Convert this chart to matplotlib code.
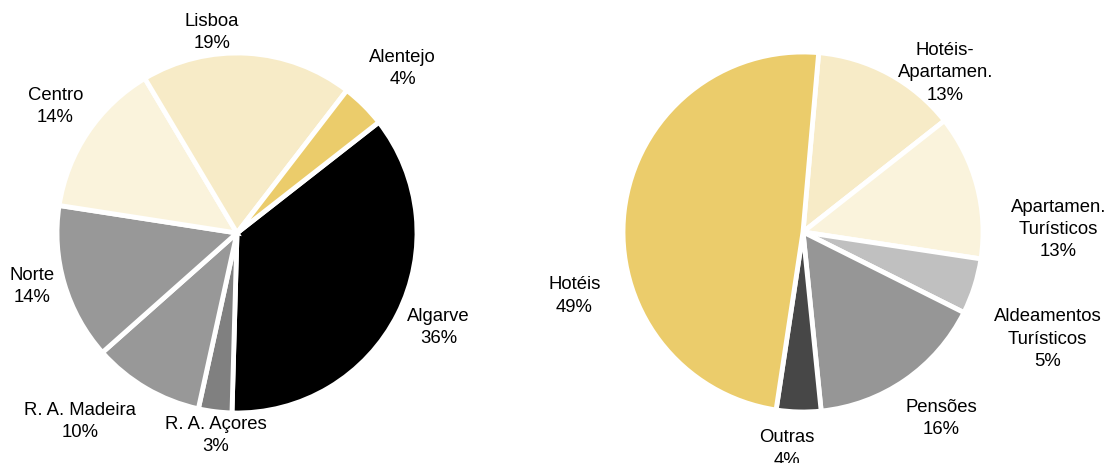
import matplotlib.pyplot as plt

plt.rcParams['font.family'] = ['Liberation Sans', 'DejaVu Sans']

# regiões (esquerda)
regioes = ['Algarve', 'R. A. Açores', 'R. A. Madeira', 'Norte', 'Centro', 'Lisboa', 'Alentejo']
regioes_pct = [36, 3, 10, 14, 14, 19, 4]
regioes_cores = ['#000000', '#808080', '#989898', '#989898', '#FAF3DC', '#F7EBC7', '#EBCC6B']

# tipologias (direita)
tipos = ['Hotéis-\nApartamen.', 'Apartamen.\nTurísticos', 'Aldeamentos\nTurísticos',
         'Pensões', 'Outras', 'Hotéis']
tipos_pct = [13, 13, 5, 16, 4, 49]
tipos_cores = ['#F7EBC7', '#FAF3DC', '#C0C0C0', '#969696', '#474747', '#EBCC6B']

# posição dos rótulos (em raios do círculo)
pos_regioes = [(1.12, -0.52), (-0.12, -1.12), (-0.87, -1.04), (-1.14, -0.29),
               (-1.01, 0.71), (-0.14, 1.12), (0.92, 0.92)]
pos_tipos = [(0.79, 0.89), (1.42, 0.02), (1.36, -0.59), (0.77, -1.03),
             (-0.09, -1.20), (-1.27, -0.35)]

W, H = 1105, 464
R = 180  # raio em px
half = 1.4

fig = plt.figure(figsize=(W / 100, H / 100), dpi=100)


def desenha(cx, cy, valores, nomes, cores, inicio, posicoes):
    size = 2 * half * R
    ax = fig.add_axes([(cx - half * R) / W, ((H - cy) - half * R) / H, size / W, size / H])
    ax.pie(valores, colors=cores, startangle=inicio, counterclock=False, radius=1,
           wedgeprops=dict(edgecolor='white', linewidth=3.5))
    for nome, v, (x, y) in zip(nomes, valores, posicoes):
        ax.text(x, y, f'{nome}\n{v}%', ha='center', va='center', fontsize=13.3,
                multialignment='center', linespacing=1.4)
    ax.set_xlim(-half, half)
    ax.set_ylim(-half, half)
    ax.axis('off')


desenha(237, 234, regioes_pct, regioes, regioes_cores, 38, pos_regioes)
desenha(803, 233, tipos_pct, tipos, tipos_cores, 85, pos_tipos)

plt.savefig('out.png', dpi=100)
